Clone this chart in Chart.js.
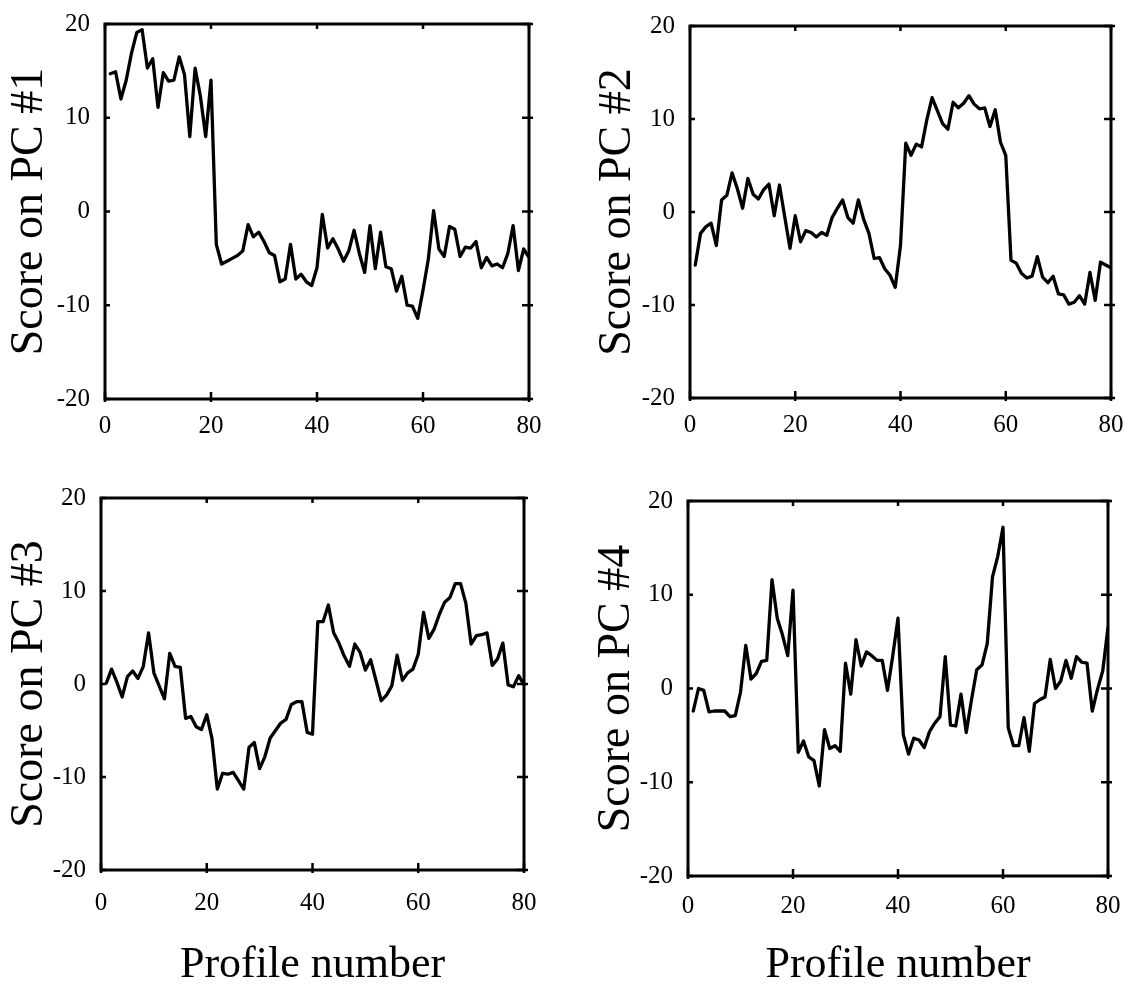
<!DOCTYPE html>
<html>
<head>
<meta charset="utf-8">
<script src="https://cdn.jsdelivr.net/npm/chart.js@4.4.1/dist/chart.umd.min.js"></script>
<style>
  html, body { margin: 0; padding: 0; background: #fff; }
  #figura { position: relative; width: 1134px; height: 994px; background: #fff; }
  .panel { position: absolute; }
  #p1 { left: 0;     top: 0;   width: 567px; height: 480px; }
  #p2 { left: 567px; top: 0;   width: 567px; height: 480px; }
  #p3 { left: 0;     top: 480px; width: 567px; height: 514px; }
  #p4 { left: 567px; top: 480px; width: 567px; height: 514px; }
</style>
</head>
<body>
<div id="figura">
  <div class="panel" id="p1"><canvas id="c1"></canvas></div>
  <div class="panel" id="p2"><canvas id="c2"></canvas></div>
  <div class="panel" id="p3"><canvas id="c3"></canvas></div>
  <div class="panel" id="p4"><canvas id="c4"></canvas></div>
</div>
<script>
// ── Datos ─────────────────────────────────────────────────────
const perfiles = [
   1,  2,  3,  4,  5,  6,  7,  8,  9, 10, 11, 12, 13, 14, 15, 16, 17, 18, 19, 20,
  21, 22, 23, 24, 25, 26, 27, 28, 29, 30, 31, 32, 33, 34, 35, 36, 37, 38, 39, 40,
  41, 42, 43, 44, 45, 46, 47, 48, 49, 50, 51, 52, 53, 54, 55, 56, 57, 58, 59, 60,
  61, 62, 63, 64, 65, 66, 67, 68, 69, 70, 71, 72, 73, 74, 75, 76, 77, 78, 79, 80
];

const scorePC1 = [
  14.7, 14.9, 12.0, 14.0, 16.9, 19.1, 19.4, 15.3, 16.3, 11.1,
  14.8, 13.9, 14.0, 16.5, 14.6,  8.0, 15.3, 12.3,  8.0, 14.0,
  -3.5, -5.6, -5.3, -5.0, -4.7, -4.2, -1.4, -2.7, -2.2, -3.2,
  -4.4, -4.7, -7.5, -7.2, -3.5, -7.2, -6.7, -7.5, -7.9, -6.0,
  -0.3, -3.9, -2.9, -4.0, -5.3, -4.2, -2.0, -4.5, -6.5, -1.5,
  -6.1, -2.2, -5.9, -6.1, -8.5, -6.9, -10.0, -10.1, -11.4, -8.4,
  -5.1,  0.1, -4.0, -4.8, -1.6, -1.9, -4.8, -3.8, -3.9, -3.2,
  -6.0, -4.9, -5.8, -5.6, -6.0, -4.5, -1.5, -6.3, -4.0, -4.9
];

const scorePC2 = [
  -5.7, -2.3, -1.6, -1.2, -3.6,  1.3,  1.8,  4.2,  2.5,  0.4,
   3.6,  1.9,  1.4,  2.4,  3.0, -0.4,  2.9, -0.5, -3.9, -0.4,
  -3.2, -2.0, -2.2, -2.7, -2.2, -2.5, -0.6,  0.4,  1.3, -0.6,
  -1.2,  1.3, -0.8, -2.3, -5.0, -4.9, -6.1, -6.8, -8.1, -3.6,
   7.4,  6.1,  7.3,  7.0,  9.9, 12.3, 10.9,  9.5,  8.9, 11.8,
  11.2, 11.7, 12.5, 11.6, 11.1, 11.2,  9.2, 11.0,  7.5,  6.1,
  -5.2, -5.5, -6.6, -7.1, -6.9, -4.8, -7.0, -7.6, -6.9, -8.8,
  -8.9, -9.9, -9.7, -9.0, -9.9, -6.5, -9.5, -5.4, -5.7, -6.0
];

const scorePC3 = [
   0.1,  1.6,  0.2, -1.4,  0.8,  1.4,  0.6,  1.9,  5.5,  1.2,
  -0.2, -1.6,  3.3,  1.9,  1.8, -3.7, -3.5, -4.6, -4.9, -3.3,
  -5.9, -11.3, -9.6, -9.7, -9.5, -10.4, -11.3, -6.8, -6.3, -9.1,
  -7.8, -5.8, -5.0, -4.2, -3.8, -2.2, -1.9, -1.9, -5.2, -5.4,
   6.7,  6.7,  8.5,  5.5,  4.4,  3.0,  1.9,  4.3,  3.4,  1.5,
   2.6,  0.4, -1.8, -1.2, -0.2,  3.1,  0.4,  1.2,  1.6,  3.2,
   7.7,  4.9,  5.9,  7.5,  8.8,  9.3, 10.8, 10.8,  8.7,  4.3,
   5.2,  5.3,  5.5,  2.0,  2.7,  4.4, -0.1, -0.3,  0.9, -0.1
];

const scorePC4 = [
  -2.4,  0.0, -0.2, -2.5, -2.4, -2.4, -2.4, -3.0, -2.9, -0.4,
   4.6,  1.0,  1.6,  2.9,  3.0, 11.6,  7.5,  5.7,  3.5, 10.5,
  -6.8, -5.6, -7.3, -7.7, -10.4, -4.4, -6.4, -6.1, -6.7,  2.7,
  -0.6,  5.2,  2.4,  3.9,  3.5,  3.0,  3.0, -0.2,  3.5,  7.5,
  -4.9, -7.0, -5.3, -5.5, -6.3, -4.6, -3.7, -3.0,  3.4, -3.9,
  -4.0, -0.6, -4.7, -1.2,  2.0,  2.5,  4.8, 11.9, 14.1, 17.2,
  -4.2, -6.1, -6.1, -3.1, -6.7, -1.6, -1.2, -0.9,  3.1,  0.0,
   0.8,  3.0,  1.1,  3.4,  2.8,  2.7, -2.4, -0.1,  1.9,  6.5
];

const ticksX = [0, 20, 40, 60, 80];
const ticksY = [-20, -10, 0, 10, 20];

const titulosY = ['Score on PC #1', 'Score on PC #2', 'Score on PC #3', 'Score on PC #4'];
const tituloX  = 'Profile number';

// ── Marco con marcas de escala hacia dentro ───────────────────
const marcoCaja = {
  id: 'marcoCaja',
  afterDatasetsDraw(chart) {
    const { ctx, chartArea: a, scales: { x, y } } = chart;
    ctx.save();
    ctx.strokeStyle = '#000';
    ctx.lineWidth = 3;
    ctx.lineJoin = 'miter';
    ctx.strokeRect(a.left, a.top, a.right - a.left, a.bottom - a.top);

    ctx.lineWidth = 2.5;
    ctx.beginPath();
    x.ticks.forEach(t => {
      const px = x.getPixelForValue(t.value);
      ctx.moveTo(px, a.bottom + 3); ctx.lineTo(px, a.bottom - 7);
      ctx.moveTo(px, a.top);        ctx.lineTo(px, a.top + 5);
    });
    y.ticks.forEach(t => {
      const py = y.getPixelForValue(t.value);
      ctx.moveTo(a.left, py);      ctx.lineTo(a.left + 5, py);
      ctx.moveTo(a.right + 4, py); ctx.lineTo(a.right - 7, py);
    });
    ctx.stroke();
    ctx.restore();
  }
};

// ── Configuración de cada panel ───────────────────────────────
// anchoY: ancho del eje y (izquierda hasta el marco)
// altoX:  alto del eje x (marco hasta el borde inferior)
const paneles = [
  { canvas: 'c1', valores: scorePC1, titulo: titulosY[0], anchoY: 105, padTitulo: 7,
    top: 24, right: 38, altoX: 81,  padTicksX: 12, conTituloX: false },
  { canvas: 'c2', valores: scorePC2, titulo: titulosY[1], anchoY: 123, padTitulo: 28,
    top: 26, right: 23, altoX: 82,  padTicksX: 12, conTituloX: false },
  { canvas: 'c3', valores: scorePC3, titulo: titulosY[2], anchoY: 101, padTitulo: 7,
    top: 18, right: 43, altoX: 124, padTicksX: 18, conTituloX: true },
  { canvas: 'c4', valores: scorePC4, titulo: titulosY[3], anchoY: 121, padTitulo: 27,
    top: 21, right: 26, altoX: 118, padTicksX: 15, conTituloX: true },
];

const fuente = "'Liberation Serif', 'Times New Roman', serif";

function crearPanel(p) {
  const ctx = document.getElementById(p.canvas).getContext('2d');
  return new Chart(ctx, {
    type: 'line',
    data: {
      datasets: [{
        data: perfiles.map((n, i) => ({ x: n, y: p.valores[i] })),
        borderColor: '#000',
        borderWidth: 3.3,
        borderJoinStyle: 'round',
        borderCapStyle: 'round',
        pointRadius: 0,
        tension: 0,
        fill: false,
      }]
    },
    options: {
      responsive: true,
      maintainAspectRatio: false,
      animation: false,
      events: [],
      layout: { padding: { left: 0, top: p.top, right: p.right, bottom: 0 } },
      plugins: { legend: { display: false }, tooltip: { enabled: false } },
      scales: {
        x: {
          type: 'linear',
          min: 0, max: 80,
          afterBuildTicks: s => { s.ticks = ticksX.map(v => ({ value: v })); },
          // alto fijo y sin margen extra por las etiquetas de los extremos
          afterFit: s => { s.height = p.altoX; s.paddingLeft = 0; s.paddingRight = 0; },
          grid: { display: false, drawTicks: false },
          border: { display: false },
          ticks: { color: '#000', padding: p.padTicksX, maxRotation: 0,
                   font: { family: fuente, size: 25 } },
          title: {
            display: p.conTituloX,
            text: tituloX,
            color: '#000',
            font: { family: fuente, size: 44, lineHeight: 1 },
            padding: { top: 0, bottom: 7 }
          }
        },
        y: {
          min: -20, max: 20,
          afterBuildTicks: s => { s.ticks = ticksY.map(v => ({ value: v })); },
          afterFit: s => { s.width = p.anchoY; s.paddingTop = 0; s.paddingBottom = 0; },
          grid: { display: false, drawTicks: false },
          border: { display: false },
          ticks: { color: '#000', padding: 15,
                   font: { family: fuente, size: 25 } },
          title: {
            display: true,
            text: p.titulo,
            color: '#000',
            font: { family: fuente, size: 46, lineHeight: 1 },
            padding: { top: p.padTitulo, bottom: 0 }
          }
        }
      }
    },
    plugins: [marcoCaja]
  });
}

// ── Inicializar ───────────────────────────────────────────────
paneles.forEach(crearPanel);
</script>
</body>
</html>
